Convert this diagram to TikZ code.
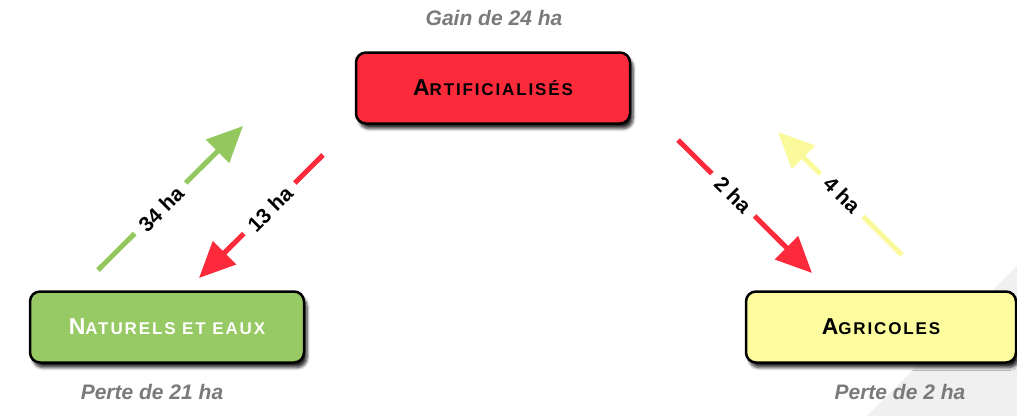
\documentclass[tikz,border=0pt]{standalone}
\usepackage{fontspec}
\setmainfont{Liberation Sans}
\usetikzlibrary{arrows.meta,shadows.blur}
\definecolor{redbox}{HTML}{FC2B3B}
\definecolor{greenbox}{HTML}{97C964}
\definecolor{yellowbox}{HTML}{FCFC9E}
\definecolor{greenarrow}{HTML}{93C85F}
\definecolor{redarrow}{HTML}{FC2A3A}
\definecolor{yellowarrow}{HTML}{FAFA9C}
\definecolor{graytxt}{HTML}{7A7A7A}
\definecolor{corner}{HTML}{F0F0F0}
\newcommand{\capsc}[2]{{\fontsize{23}{23}\selectfont\addfontfeatures{LetterSpace=11}#1}{\fontsize{17}{17}\selectfont\addfontfeatures{LetterSpace=11}#2}}
\begin{document}
\begin{tikzpicture}[x=1pt,y=-1pt,
  box/.style={draw=black, line width=2.5pt, rounded corners=10pt,
    minimum width=274pt, minimum height=71pt, font=\bfseries,
    blur shadow={shadow xshift=3pt, shadow yshift=-5pt, shadow blur radius=3pt, shadow blur steps=6, shadow opacity=85}},
  flow/.style={line width=5pt, -{Triangle[length=36pt,width=32pt]}},
  lbl/.style={fill=white, font=\bfseries\fontsize{21}{21}\selectfont, inner xsep=9pt, inner ysep=1pt},
  note/.style={text=graytxt, font=\bfseries\itshape\fontsize{21}{21}\selectfont}]
\useasboundingbox (0,0) rectangle (1017,416);
\fill[corner] (867,416) -- (1017,266) -- (1017,416) -- cycle;

\node[box, fill=redbox] (art) at (493,88) {\capsc{A}{RTIFICIALISÉS}};
\node[box, fill=greenbox, text=white] (nat) at (167,327) {\capsc{N}{ATURELS ET EAUX}};
\node[box, fill=yellowbox, minimum width=270pt] (agr) at (881,327) {\capsc{A}{GRICOLES}};

\node[note] (gain) at (494,18) {Gain de 24 ha};
\node[note] (p21) at (152,392) {Perte de 21 ha};
\node[note] (p2) at (900,392) {Perte de 2 ha};

\coordinate (g1) at (98,270);  \coordinate (g2) at (243,126);
\coordinate (r1) at (323,155); \coordinate (r2) at (199,278);
\coordinate (s1) at (678,140); \coordinate (s2) at (812,273);
\coordinate (y1) at (902,255); \coordinate (y2) at (778,132);

\draw[flow, greenarrow] (g1) -- (g2);
\draw[flow, redarrow] (r1) -- (r2);
\draw[flow, redarrow] (s1) -- (s2);
\draw[flow, yellowarrow] (y1) -- (y2);

\node[lbl, rotate=45] (l34) at (161,209) {34 ha};
\node[lbl, rotate=45] (l13) at (270,209) {13 ha};
\node[lbl, rotate=-45] (l2) at (733,195) {2 ha};
\node[lbl, rotate=-45] (l4) at (842,195) {4 ha};
\end{tikzpicture}
\end{document}
